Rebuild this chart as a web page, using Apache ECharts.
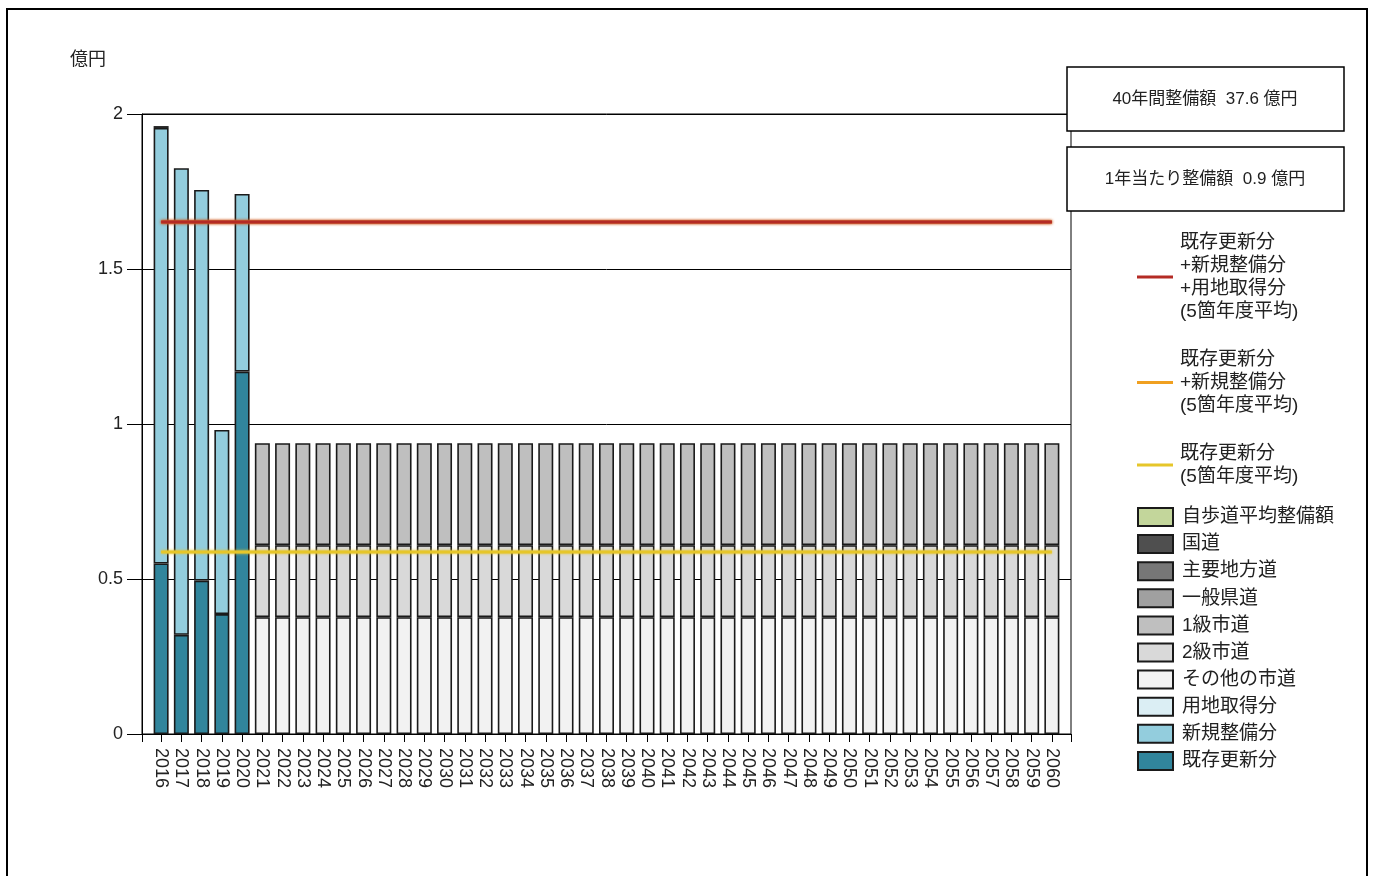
<!DOCTYPE html>
<html>
<head>
<meta charset="utf-8">
<script src="https://cdn.jsdelivr.net/npm/echarts@6/dist/echarts.min.js"></script>
<style>
  html, body { margin: 0; padding: 0; background: #fff; }
  #chart { width: 1374px; height: 876px; }
</style>
</head>
<body>
<div id="chart"></div>
<script>
// 年度（横軸）
const years = [
  '2016','2017','2018','2019','2020','2021','2022','2023','2024','2025',
  '2026','2027','2028','2029','2030','2031','2032','2033','2034','2035',
  '2036','2037','2038','2039','2040','2041','2042','2043','2044','2045',
  '2046','2047','2048','2049','2050','2051','2052','2053','2054','2055',
  '2056','2057','2058','2059','2060'
];

// 整備額（億円）: 2016〜2020 は実績、2021〜2060 は将来推計
const kizonKoshin = [0.55, 0.32, 0.495, 0.387, 1.169,
  null,null,null,null,null,null,null,null,null,null,
  null,null,null,null,null,null,null,null,null,null,
  null,null,null,null,null,null,null,null,null,null,
  null,null,null,null,null,null,null,null,null,null];
const shinkiSeibi = [1.405, 1.505, 1.26, 0.594, 0.573,
  null,null,null,null,null,null,null,null,null,null,
  null,null,null,null,null,null,null,null,null,null,
  null,null,null,null,null,null,null,null,null,null,
  null,null,null,null,null,null,null,null,null,null];
const yochiShutoku = [0.006, null, null, null, null,
  null,null,null,null,null,null,null,null,null,null,
  null,null,null,null,null,null,null,null,null,null,
  null,null,null,null,null,null,null,null,null,null,
  null,null,null,null,null,null,null,null,null,null];
const sonotaShido = [null, null, null, null, null,
  0.377,0.377,0.377,0.377,0.377,0.377,0.377,0.377,0.377,0.377,
  0.377,0.377,0.377,0.377,0.377,0.377,0.377,0.377,0.377,0.377,
  0.377,0.377,0.377,0.377,0.377,0.377,0.377,0.377,0.377,0.377,
  0.377,0.377,0.377,0.377,0.377,0.377,0.377,0.377,0.377,0.377];
const nikyuShido = [null, null, null, null, null,
  0.232,0.232,0.232,0.232,0.232,0.232,0.232,0.232,0.232,0.232,
  0.232,0.232,0.232,0.232,0.232,0.232,0.232,0.232,0.232,0.232,
  0.232,0.232,0.232,0.232,0.232,0.232,0.232,0.232,0.232,0.232,
  0.232,0.232,0.232,0.232,0.232,0.232,0.232,0.232,0.232,0.232];
const ikkyuShido = [null, null, null, null, null,
  0.329,0.329,0.329,0.329,0.329,0.329,0.329,0.329,0.329,0.329,
  0.329,0.329,0.329,0.329,0.329,0.329,0.329,0.329,0.329,0.329,
  0.329,0.329,0.329,0.329,0.329,0.329,0.329,0.329,0.329,0.329,
  0.329,0.329,0.329,0.329,0.329,0.329,0.329,0.329,0.329,0.329];
const ippanKendo = [];
const shuyoChihodo = [];
const kokudo = [];
const jihodo = [];

// 5箇年度平均（億円）
const avgKizonShinkiYochi = 1.652;
const avgKizonShinki = 1.652;
const avgKizon = 0.587;

// 縦軸目盛
const yMin = 0, yMax = 2, yStep = 0.5;

const FONT = "'Liberation Sans', 'Noto Sans CJK JP', sans-serif";
const TEXT = '#222';
const EDGE = '#1a1a1a';

const barSeries = [
  ['既存更新分', kizonKoshin, '#31859c'],
  ['新規整備分', shinkiSeibi, '#93cddd'],
  ['用地取得分', yochiShutoku, '#dbeef4'],
  ['その他の市道', sonotaShido, '#f2f2f2'],
  ['2級市道', nikyuShido, '#d9d9d9'],
  ['1級市道', ikkyuShido, '#bfbfbf'],
  ['一般県道', ippanKendo, '#a0a0a0'],
  ['主要地方道', shuyoChihodo, '#777777'],
  ['国道', kokudo, '#4f4f4f'],
  ['自歩道平均整備額', jihodo, '#c3d69b']
].map(([name, data, color]) => ({
  name, type: 'bar', stack: 'total', data,
  xAxisIndex: 1, yAxisIndex: 1,
  barWidth: 15,
  itemStyle: { color, borderColor: EDGE, borderWidth: 1.6 },
  z: 3
}));

const lineNames = {
  all: '既存更新分\n+新規整備分\n+用地取得分\n(5箇年度平均)',
  kn: '既存更新分\n+新規整備分\n(5箇年度平均)',
  k: '既存更新分\n(5箇年度平均)'
};

function avgLine(name, value, color, z) {
  return {
    name, type: 'line', xAxisIndex: 1, yAxisIndex: 1,
    data: [[years[0], value], [years[years.length - 1], value]],
    symbol: 'none', z,
    lineStyle: { color, width: 3, shadowColor: color, shadowBlur: 3 },
    itemStyle: { color }
  };
}

const lineSeries = [
  avgLine(lineNames.k, avgKizon, '#e6c62a', 5),
  avgLine(lineNames.kn, avgKizonShinki, '#f0a020', 5),
  avgLine(lineNames.all, avgKizonShinkiYochi, '#b42b25', 6)
];

const chart = echarts.init(document.getElementById('chart'), null, { renderer: 'canvas' });

chart.setOption({
  animation: false,
  backgroundColor: '#fff',
  textStyle: { fontFamily: FONT, color: TEXT },
  grid: [
    { left: 142, top: 114, right: 303, bottom: 142, show: true, borderColor: '#000', borderWidth: 1, backgroundColor: 'transparent' },
    { left: 151, top: 114, right: 312, bottom: 142 }
  ],
  xAxis: [
    {
      type: 'category', gridIndex: 0, data: [''], boundaryGap: true,
      axisLine: { show: true, lineStyle: { color: '#000', width: 1 } },
      axisTick: { show: true, length: 8, lineStyle: { color: '#000' } },
      axisLabel: { show: false }
    },
    {
      type: 'category', gridIndex: 1, data: years,
      axisLine: { show: false },
      axisTick: { show: true, alignWithLabel: true, length: 8, lineStyle: { color: '#000' } },
      axisLabel: { rotate: -90, fontSize: 18, color: TEXT, margin: 14, interval: 0, fontFamily: FONT }
    }
  ],
  yAxis: [
    {
      type: 'value', gridIndex: 0, min: yMin, max: yMax, interval: yStep,
      axisLine: { show: true, lineStyle: { color: '#000', width: 1 } },
      axisTick: { show: true, length: 15, lineStyle: { color: '#000' } },
      axisLabel: { fontSize: 18, color: TEXT, margin: 19, fontFamily: FONT },
      splitLine: { show: true, lineStyle: { color: '#000', width: 1 } }
    },
    {
      type: 'value', gridIndex: 1, min: yMin, max: yMax, interval: yStep,
      show: false, splitLine: { show: false }
    }
  ],
  legend: [
    {
      orient: 'vertical', left: 1132, top: 226,
      data: [lineNames.all, lineNames.kn, lineNames.k],
      icon: 'rect', itemWidth: 36, itemHeight: 3, itemGap: 25,
      textStyle: { fontSize: 19, lineHeight: 23, color: TEXT, fontFamily: FONT, padding: [0, 0, 0, 2] },
      selectedMode: false
    },
    {
      orient: 'vertical', left: 1132, top: 502,
      data: ['自歩道平均整備額', '国道', '主要地方道', '一般県道', '1級市道', '2級市道', 'その他の市道', '用地取得分', '新規整備分', '既存更新分'],
      icon: 'rect', itemWidth: 35, itemHeight: 18, itemGap: 7.1,
      textStyle: { fontSize: 19, lineHeight: 18, color: TEXT, fontFamily: FONT, padding: [0, 0, 0, 4] },
      selectedMode: false
    }
  ],
  graphic: [
    { type: 'rect', silent: true, z: -10, shape: { x: 7, y: 9, width: 1360, height: 900 }, style: { fill: 'none', stroke: '#000', lineWidth: 2 } },
    { type: 'text', left: 70, top: 51, style: { text: '億円', fontSize: 18, fontFamily: FONT, fill: TEXT } },
    { type: 'rect', z: 20, shape: { x: 1067, y: 67, width: 277, height: 64 }, style: { fill: '#fff', stroke: '#000', lineWidth: 1.5 } },
    { type: 'text', z: 21, x: 1205, y: 99, style: { text: '40年間整備額  37.6 億円', fontSize: 17, fontFamily: FONT, fill: TEXT, textAlign: 'center', textVerticalAlign: 'middle', align: 'center', verticalAlign: 'middle' } },
    { type: 'rect', z: 20, shape: { x: 1067, y: 147, width: 277, height: 64 }, style: { fill: '#fff', stroke: '#000', lineWidth: 1.5 } },
    { type: 'text', z: 21, x: 1205, y: 179, style: { text: '1年当たり整備額  0.9 億円', fontSize: 17, fontFamily: FONT, fill: TEXT, textAlign: 'center', textVerticalAlign: 'middle', align: 'center', verticalAlign: 'middle' } }
  ],
  series: [...barSeries, ...lineSeries]
});
</script>
</body>
</html>
